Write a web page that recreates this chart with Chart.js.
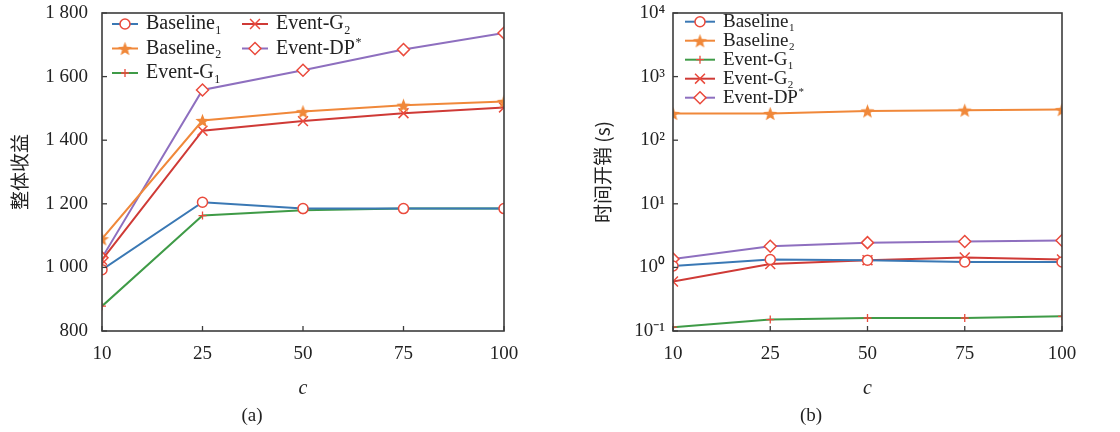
<!DOCTYPE html>
<html><head><meta charset="utf-8">
<script src="https://cdn.jsdelivr.net/npm/chart.js@4/dist/chart.umd.min.js"></script>
<style>
html,body{margin:0;padding:0;background:#fff;}
#wrap{position:relative;width:1120px;height:432px;overflow:hidden;}
.box{position:absolute;top:0;width:560px;height:432px;}
</style></head><body>
<div id="wrap">
<div class="box" style="left:0"><canvas id="c1" width="560" height="432"></canvas></div>
<div class="box" style="left:560px"><canvas id="c2" width="560" height="432"></canvas></div>
</div>
<script>
// ---------- data ----------
const categories = ['10', '25', '50', '75', '100'];
const seriesLabels = ['Baseline₁', 'Baseline₂', 'Event-G₁', 'Event-G₂', 'Event-DP*'];

// (a) overall profit
const profitBaseline1 = [993, 1205, 1185, 1185, 1185];
const profitBaseline2 = [1090, 1462, 1490, 1510, 1522];
const profitEventG1   = [878, 1163, 1180, 1185, 1185];
const profitEventG2   = [1024, 1430, 1460, 1485, 1503];
const profitEventDP   = [1030, 1558, 1620, 1685, 1737];
const profitTicks = [800, 1000, 1200, 1400, 1600, 1800];
const profitTickLabels = ['800', '1 000', '1 200', '1 400', '1 600', '1 800'];

// (b) time cost (s), log scale
const timeBaseline1 = [1.05, 1.33, 1.3, 1.22, 1.22];
const timeBaseline2 = [263, 263, 289, 297, 303];
const timeEventG1   = [0.115, 0.151, 0.16, 0.16, 0.17];
const timeEventG2   = [0.6, 1.13, 1.3, 1.43, 1.33];
const timeEventDP   = [1.36, 2.15, 2.45, 2.55, 2.65];
const timeTicks = [0.1, 1, 10, 100, 1000, 10000];
const timeTickLabels = ['10⁻¹', '10⁰', '10¹', '10²', '10³', '10⁴'];

// ---------- styles ----------
const SERIF = "'Liberation Serif', 'Times New Roman', serif";
const CJK = "'Noto Sans CJK SC', sans-serif";
const lineColors = ['#3a78b4', '#f0883a', '#3f9b47', '#cf3a36', '#8e6fbf'];
const markRed = '#ea4a3c';

function makeStar(color, R) {
  const c = document.createElement('canvas');
  const s = Math.ceil(R * 2 + 2);
  c.width = s; c.height = s;
  const g = c.getContext('2d');
  g.translate(s / 2, s / 2 + 0.8);
  g.beginPath();
  for (let i = 0; i < 10; i++) {
    const r = i % 2 === 0 ? R : R * 0.42;
    const a = -Math.PI / 2 + i * Math.PI / 5;
    const px = r * Math.cos(a), py = r * Math.sin(a);
    if (i === 0) g.moveTo(px, py); else g.lineTo(px, py);
  }
  g.closePath();
  g.fillStyle = color;
  g.fill();
  return c;
}
const starImg = makeStar('#f0883a', 7.5);

const markerStyles = [
  { pointStyle: 'circle', pointRadius: 5, pointBorderColor: markRed, pointBackgroundColor: '#fff', pointBorderWidth: 1.5 },
  { pointStyle: starImg, pointRadius: 7, pointBorderColor: '#f0883a', pointBackgroundColor: '#f0883a', pointBorderWidth: 0 },
  { pointStyle: 'cross', pointRadius: 4, pointBorderColor: markRed, pointBackgroundColor: markRed, pointBorderWidth: 1.3 },
  { pointStyle: 'crossRot', pointRadius: 7, pointBorderColor: markRed, pointBackgroundColor: markRed, pointBorderWidth: 1.5 },
  { pointStyle: 'rectRot', pointRadius: 6, pointBorderColor: markRed, pointBackgroundColor: '#fff', pointBorderWidth: 1.5 }
];
const legendParts = [
  { base: 'Baseline', sub: '1' },
  { base: 'Baseline', sub: '2' },
  { base: 'Event-G', sub: '1' },
  { base: 'Event-G', sub: '2' },
  { base: 'Event-DP', sup: '*' }
];

function buildDatasets(arrays) {
  return arrays.map((d, i) => Object.assign({
    label: seriesLabels[i],
    data: d,
    borderColor: lineColors[i],
    backgroundColor: lineColors[i],
    borderWidth: 2,
    tension: 0,
    fill: false,
    clip: 0
  }, markerStyles[i]));
}

function drawMarker(ctx, i, x, y) {
  const m = markerStyles[i];
  ctx.save();
  ctx.strokeStyle = m.pointBorderColor;
  ctx.fillStyle = m.pointBackgroundColor;
  ctx.lineWidth = m.pointBorderWidth;
  const r = m.pointRadius;
  if (m.pointStyle === starImg) {
    ctx.drawImage(starImg, x - starImg.width / 2, y - starImg.height / 2);
  } else if (m.pointStyle === 'circle') {
    ctx.beginPath(); ctx.arc(x, y, r, 0, Math.PI * 2); ctx.fill(); ctx.stroke();
  } else if (m.pointStyle === 'cross') {
    ctx.beginPath(); ctx.moveTo(x - r, y); ctx.lineTo(x + r, y); ctx.moveTo(x, y - r); ctx.lineTo(x, y + r); ctx.stroke();
  } else if (m.pointStyle === 'crossRot') {
    const d = r * Math.SQRT1_2;
    ctx.beginPath(); ctx.moveTo(x - d, y - d); ctx.lineTo(x + d, y + d); ctx.moveTo(x + d, y - d); ctx.lineTo(x - d, y + d); ctx.stroke();
  } else if (m.pointStyle === 'rectRot') {
    ctx.beginPath(); ctx.moveTo(x, y - r); ctx.lineTo(x + r, y); ctx.lineTo(x, y + r); ctx.lineTo(x - r, y); ctx.closePath(); ctx.fill(); ctx.stroke();
  }
  ctx.restore();
}

const framePlugin = {
  id: 'frameLegend',
  afterDraw(chart, args, opts) {
    const { ctx, chartArea: a, scales } = chart;
    ctx.save();
    ctx.strokeStyle = '#3c3c3c';
    ctx.lineWidth = 1.6;
    ctx.strokeRect(a.left, a.top, a.right - a.left, a.bottom - a.top);
    ctx.lineWidth = 1.3;
    const xs = scales.x, ys = scales.y;
    xs.ticks.forEach((t, i) => {
      const px = xs.getPixelForTick(i);
      ctx.beginPath(); ctx.moveTo(px, a.bottom); ctx.lineTo(px, a.bottom - 5); ctx.stroke();
    });
    ys.ticks.forEach((t, i) => {
      const py = ys.getPixelForTick(i);
      ctx.beginPath(); ctx.moveTo(a.left, py); ctx.lineTo(a.left + 5, py); ctx.stroke();
    });
    // legend
    const L = opts.legend;
    const fs = L.fontSize;
    ctx.textBaseline = 'middle';
    ctx.textAlign = 'left';
    chart.data.datasets.forEach((ds, i) => {
      const col = Math.floor(i / L.perCol), row = i % L.perCol;
      const x0 = a.left + L.colX[col];
      const y0 = a.top + L.y0 + row * L.rowH;
      ctx.strokeStyle = ds.borderColor;
      ctx.lineWidth = 2;
      ctx.beginPath(); ctx.moveTo(x0, y0); ctx.lineTo(x0 + L.lineLen, y0); ctx.stroke();
      drawMarker(ctx, i, x0 + L.lineLen / 2, y0);
      const p = legendParts[i];
      ctx.fillStyle = '#222';
      ctx.font = fs + 'px ' + SERIF;
      const tx = x0 + L.lineLen + L.gap;
      ctx.fillText(p.base, tx, y0);
      const w = ctx.measureText(p.base).width;
      ctx.font = Math.round(fs * 0.6) + 'px ' + SERIF;
      if (p.sub) ctx.fillText(p.sub, tx + w + 0.5, y0 + fs * 0.32);
      if (p.sup) ctx.fillText(p.sup, tx + w + 0.5, y0 - fs * 0.3);
    });
    ctx.restore();
  }
};

function baseOptions(cfg) {
  return {
    responsive: false,
    animation: false,
    layout: { padding: { top: 13, right: cfg.padRight, left: 0, bottom: 0 } },
    plugins: {
      legend: { display: false },
      tooltip: { enabled: false },
      title: {
        display: true, position: 'bottom', text: cfg.caption, color: '#222',
        font: { family: SERIF, size: 19, weight: 'normal' }, padding: { top: 0, bottom: 5 }
      },
      frameLegend: { legend: cfg.legend }
    },
    scales: {
      x: {
        type: 'category',
        offset: false,
        grid: { display: false, drawTicks: false },
        border: { display: false },
        ticks: { color: '#222', font: { family: SERIF, size: 19 }, padding: 12, maxRotation: 0, autoSkip: false },
        title: { display: true, text: 'c', color: '#222', font: { family: SERIF, size: 20, style: 'italic' }, padding: { top: 0, bottom: 3 } },
        afterFit(s) { s.height = 73.2; s.paddingLeft = 0; s.paddingRight = 0; }
      },
      y: Object.assign({
        grid: { display: false, drawTicks: false },
        border: { display: false },
        title: { display: true, text: cfg.yTitle, color: '#222', font: { family: CJK, size: 19 }, padding: { top: cfg.yTitlePad, bottom: 0 } },
        afterFit(s) { s.width = cfg.yWidth; s.paddingTop = 0; s.paddingBottom = 0; }
      }, cfg.y)
    }
  };
}

new Chart(document.getElementById('c1'), {
  type: 'line',
  data: { labels: categories, datasets: buildDatasets([profitBaseline1, profitBaseline2, profitEventG1, profitEventG2, profitEventDP]) },
  options: baseOptions({
    caption: '(a)', padRight: 56, yWidth: 102, yTitle: '整体收益', yTitlePad: 8,
    legend: { fontSize: 20, perCol: 3, colX: [10, 140], y0: 11, rowH: 24.5, lineLen: 26, gap: 8 },
    y: {
      type: 'linear', min: 800, max: 1800,
      afterBuildTicks(s) { s.ticks = profitTicks.map(v => ({ value: v })); },
      ticks: { color: '#222', font: { family: SERIF, size: 19 }, padding: 14,
        callback: (v) => profitTickLabels[profitTicks.indexOf(v)] }
    }
  }),
  plugins: [framePlugin]
});

new Chart(document.getElementById('c2'), {
  type: 'line',
  data: { labels: categories, datasets: buildDatasets([timeBaseline1, timeBaseline2, timeEventG1, timeEventG2, timeEventDP]) },
  options: baseOptions({
    caption: '(b)', padRight: 58, yWidth: 113, yTitle: '时间开销 (s)', yTitlePad: 31,
    legend: { fontSize: 19, perCol: 5, colX: [12], y0: 8.7, rowH: 19, lineLen: 30, gap: 8 },
    y: {
      type: 'logarithmic', min: 0.1, max: 10000,
      afterBuildTicks(s) { s.ticks = timeTicks.map(v => ({ value: v })); },
      ticks: { color: '#222', font: { family: SERIF, size: 19 }, padding: 8,
        callback: (v) => { const k = timeTicks.findIndex(t => Math.abs(t - v) / t < 1e-6); return k >= 0 ? timeTickLabels[k] : ''; } }
    }
  }),
  plugins: [framePlugin]
});
</script>
</body></html>
